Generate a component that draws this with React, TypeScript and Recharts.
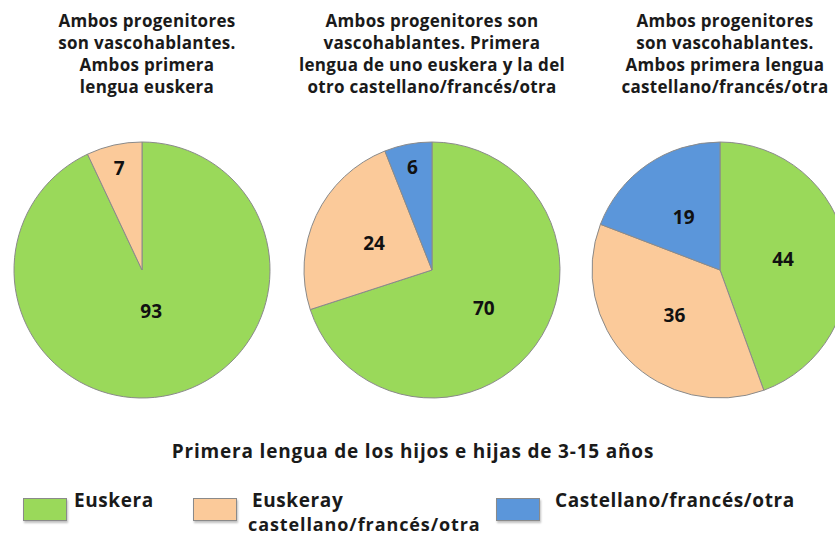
import React from "react";
import { PieChart, Pie, Cell } from "recharts";

const categories = ["Euskera", "Euskera y castellano/francés/otra", "Castellano/francés/otra"];

const pieTitles = [
  ["Ambos progenitores", "son vascohablantes.", "Ambos primera", "lengua euskera"],
  ["Ambos progenitores son", "vascohablantes. Primera", "lengua de uno euskera y la del", "otro castellano/francés/otra"],
  ["Ambos progenitores", "son vascohablantes.", "Ambos primera lengua", "castellano/francés/otra"],
];

const ambosEuskera = [93, 7];
const mixto = [70, 24, 6];
const ambosCastellano = [44, 36, 19];

const subtitle = "Primera lengua de los hijos e hijas de 3-15 años";

const COLORS = ["#9AD95A", "#FBCA9A", "#5B96DA"];
const FONT = "'Open Sans', Lato, sans-serif";

const RADIAN = Math.PI / 180;

const renderLabel = (props: any) => {
  const { cx, cy, midAngle, outerRadius, percent, value } = props;
  let k = 0.5;
  if (percent < 0.1) k = 0.82;
  else if (percent > 0.9) k = 0.33;
  const r = outerRadius * k;
  const x = cx + r * Math.cos(-midAngle * RADIAN);
  const y = cy + r * Math.sin(-midAngle * RADIAN);
  return (
    <text
      x={x}
      y={y}
      textAnchor="middle"
      dominantBaseline="central"
      fill="#111"
      fontFamily={FONT}
      fontWeight="bold"
      fontSize={19}
    >
      {value}
    </text>
  );
};

const toData = (values: number[]) =>
  values.map((v, i) => ({ name: categories[i], value: v, idx: i }));

const pies = [
  { data: toData(ambosEuskera), cx: 142 },
  { data: toData(mixto), cx: 432 },
  { data: toData(ambosCastellano), cx: 720 },
];

// legend entries: [box x, text x, text lines]
const legendItems = [
  { i: 0, box: 23, text: 74, lines: ["Euskera"] },
  { i: 1, box: 193, text: 252, lines: ["Euskeray", "castellano/francés/otra"] },
  { i: 2, box: 496, text: 555, lines: ["Castellano/francés/otra"] },
];

export default function App() {
  return (
    <div
      style={{
        position: "absolute",
        left: 0,
        top: 0,
        width: 835,
        height: 537,
        background: "#fff",
        overflow: "hidden",
        fontFamily: FONT,
      }}
    >
      {pieTitles.map((lines, i) => (
        <div
          key={i}
          style={{
            position: "absolute",
            left: pies[i].cx - 150 + (i === 0 ? 5 : i === 2 ? 5 : 0),
            top: 10,
            width: 300,
            textAlign: "center",
            fontWeight: "bold",
            fontSize: 17,
            letterSpacing: 0.3,
            lineHeight: "22px",
            color: "#1a1a1a",
          }}
        >
          {lines.map((l) => (
            <div key={l}>{l}</div>
          ))}
        </div>
      ))}

      <PieChart
        width={835}
        height={537}
        margin={{ top: 0, right: 0, bottom: 0, left: 0 }}
        style={{ position: "absolute", left: 0, top: 0 }}
      >
        {pies.map((p, j) => (
          <Pie
            key={j}
            data={p.data}
            dataKey="value"
            cx={p.cx}
            cy={270}
            outerRadius={128}
            startAngle={90}
            endAngle={-270}
            stroke="#8a8a8a"
            strokeWidth={1}
            label={renderLabel}
            labelLine={false}
            isAnimationActive={false}
          >
            {p.data.map((d) => (
              <Cell key={d.idx} fill={COLORS[d.idx]} />
            ))}
          </Pie>
        ))}
      </PieChart>

      <div
        style={{
          position: "absolute",
          left: 0,
          width: 826,
          top: 438,
          textAlign: "center",
          fontWeight: "bold",
          fontSize: 19,
          letterSpacing: 0.8,
          color: "#1a1a1a",
        }}
      >
        {subtitle}
      </div>

      {legendItems.map((l) => (
        <React.Fragment key={l.i}>
          <div
            style={{
              position: "absolute",
              left: l.box,
              top: 498,
              width: 44,
              height: 23,
              background: COLORS[l.i],
              border: "1px solid #8a8a8a",
              boxSizing: "border-box",
              boxShadow: "1px 2px 2px rgba(0,0,0,0.25)",
            }}
          />
          {l.lines.map((t, k) => (
            <div
              key={k}
              style={{
                position: "absolute",
                left: l.text - (k === 1 ? 4 : 0),
                top: k === 0 ? 487 : 512,
                fontWeight: "bold",
                fontSize: k === 0 ? 19 : 18,
                letterSpacing: k === 0 ? 0.6 : 0.9,
                lineHeight: "normal",
                color: "#1a1a1a",
                whiteSpace: "nowrap",
              }}
            >
              {t}
            </div>
          ))}
        </React.Fragment>
      ))}
    </div>
  );
}
